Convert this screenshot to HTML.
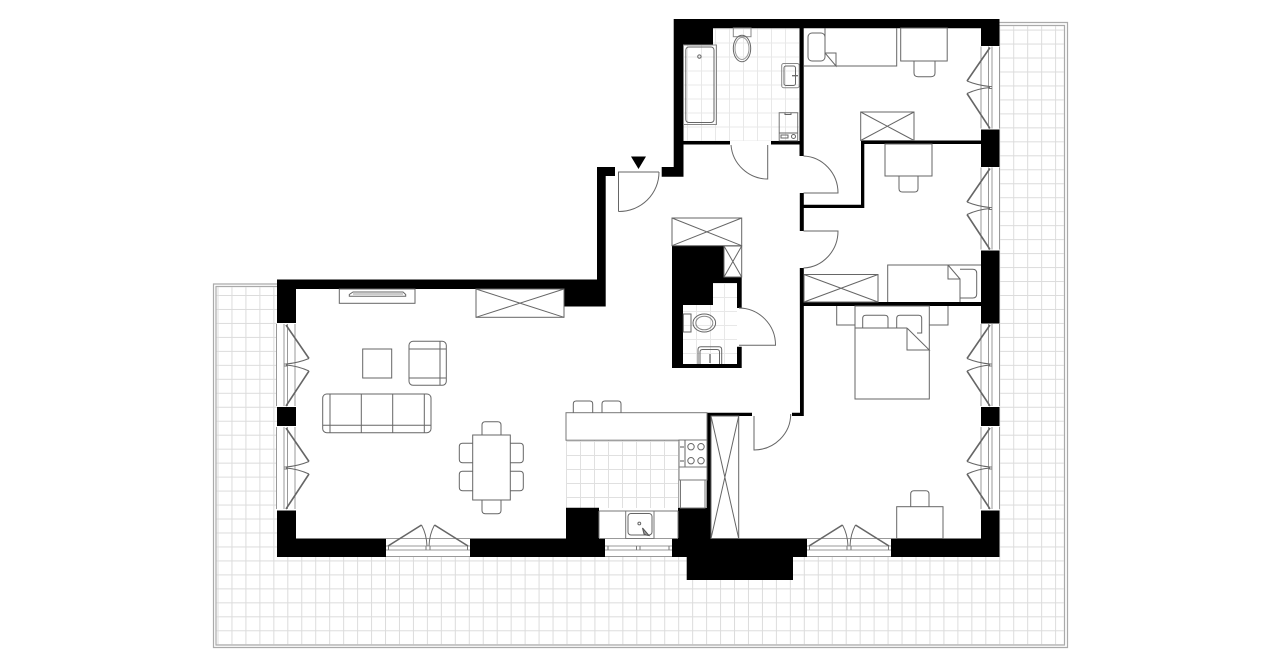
<!DOCTYPE html>
<html><head><meta charset="utf-8"><title>Floor plan</title>
<style>html,body{margin:0;padding:0;background:#fff}svg{display:block}</style></head>
<body>
<svg width="1280" height="667" viewBox="0 0 1280 667" xmlns="http://www.w3.org/2000/svg">
<defs>
<pattern id="tg" x="217.5" y="15.6" width="13.96" height="13.97" patternUnits="userSpaceOnUse"><path d="M0.5 0V13.97M0 0.5H13.96" fill="none" stroke="#dcdcdc" stroke-width="1"/></pattern>
<pattern id="k" x="566" y="441" width="14" height="14" patternUnits="userSpaceOnUse"><path d="M0.5 0V14M0 0.5H14" fill="none" stroke="#e0e0e0" stroke-width="1"/></pattern>
<pattern id="b" x="687" y="28.5" width="14" height="14" patternUnits="userSpaceOnUse"><path d="M0.5 0V14M0 0.5H14" fill="none" stroke="#e8e8e8" stroke-width="1"/></pattern>
<pattern id="c" x="696" y="283" width="14" height="14" patternUnits="userSpaceOnUse"><path d="M0.5 0V14M0 0.5H14" fill="none" stroke="#e8e8e8" stroke-width="1"/></pattern>
<g id="wr" fill="none">
<path d="M981 -41V41M988.5 -41V41M992 -41V41M999.5 -41V41" stroke="#999"/>
<path d="M988.5 -1H992M988.5 1H992" stroke="#777"/>
<path d="M990 -40L967 -6.5M967 6L990 41" stroke="#666" stroke-width="1.6"/>
<path d="M967 -6.5Q978 -2 990 -1M967 6Q978 1 990 0" stroke="#666"/>
</g>
<g id="wb" fill="none">
<path d="M-42 538.5H42M-42 546H42M-42 550H42M-42 556.5H42" stroke="#999"/>
<path d="M-39.5 546V550M39.5 546V550M-2 546V550M2 546V550" stroke="#777"/>
<path d="M-40 546L-6.5 525M40 546L6.5 525" stroke="#666" stroke-width="1.6"/>
<path d="M-6.5 525Q-1.5 534 -1 546M6.5 525Q1.5 534 1 546" stroke="#666"/>
</g>
</defs>

<!-- terrace -->
<path d="M999 22.5H1067.5V647.5H213.5V284H277" fill="none" stroke="#aaa" stroke-width="1.2"/>
<path d="M999 25.5H1064.5V645H216V286.5H277" fill="none" stroke="#aaa" stroke-width="1.2"/>
<path d="M999 26H1064V644.5H216.5V287H277V557H999Z" fill="url(#tg)"/>
<path d="M277 279.5H597V167H674V19H999V557H277Z" fill="#fff"/>

<!-- tiles -->
<rect x="566" y="440" width="113" height="68" fill="url(#k)"/>
<rect x="683" y="28" width="116" height="113" fill="url(#b)"/>
<path d="M683 305H713V283H737V364H683Z" fill="url(#c)"/>

<!-- walls -->
<g fill="#000">
<path d="M277 279.5H597V167H615V176H605.7V306.5H564V289H296V323H277Z"/>
<rect x="277" y="407" width="19" height="19"/>
<path d="M277 510.5H296V538.5H386V557H277Z"/>
<path d="M470 538.5H566V507.7H599V538.5H605V557H470Z"/>
<path d="M672 538.5H678V507.7H707V412.7H752V416H711V538.5H807V557H793V580H686.7V557H672Z"/>
<path d="M891 538.5H981V510.5H999.5V557H891Z"/>
<rect x="981" y="407" width="18.5" height="19"/>
<rect x="981" y="250.5" width="18.5" height="73"/>
<rect x="981" y="129.5" width="18.5" height="37.5"/>
<path d="M673.7 19H999.5V46H981V28.3H803.7V156H799.5V144.5H771V141H799.5V28.3H713V45H683.5V141H730V144.5H683.5V176.7H661.7V167H673.7Z"/>
<path d="M861 140.5H981V144H864.3V208H803.8V231H799.8V193H803.8V204.8H861Z"/>
<path d="M799.8 268H803.8V302H981V306H803.8V416H792V412.7H800Z"/>
<path d="M672 245.7H724V277.3H741.7V308H737V283H713V305H683V364H737V346.7H741.7V368H672Z"/>
</g>

<!-- windows -->
<use href="#wr" transform="translate(0,87.5)"/>
<use href="#wr" transform="translate(0,208.5)"/>
<use href="#wr" transform="translate(0,365)"/>
<use href="#wr" transform="translate(0,468)"/>
<use href="#wr" transform="translate(1276,365) scale(-1,1)"/>
<use href="#wr" transform="translate(1276,468) scale(-1,1)"/>
<use href="#wb" transform="translate(428,0)"/>
<use href="#wb" transform="translate(849,0)"/>
<g fill="none" stroke="#999"><path d="M605 538.5H672M605 546H672M605 550H672M605 556.5H672"/><path d="M608 546V550M669 546V550M636.5 546V550M640 546V550" stroke="#777"/></g>

<!-- doors and furniture -->
<g fill="none" stroke="#666" stroke-width="1">
<!-- entry -->
<path d="M618 172H659M618.5 172V211.5"/><path d="M618.5 211.5A40 40 0 0 0 659 172"/>
<path d="M731 145A37 37 0 0 0 767.7 179V145"/>
<path d="M803.5 156A36 37 0 0 1 838 193H803.5"/>
<path d="M803.5 231H838A36 37 0 0 1 803.5 268"/>
<path d="M739 308A37 37 0 0 1 775.5 345.2H739"/>
<path d="M754 416V450A37 36 0 0 0 790.7 414"/>

<!-- bath -->
<rect x="683.5" y="45" width="33" height="79.5" stroke="#888"/>
<rect x="685.8" y="47" width="28.2" height="75.5" rx="3"/>
<circle cx="699.4" cy="56.6" r="1.7"/>
<rect x="733.3" y="28" width="17.7" height="8.7" stroke="#888"/>
<ellipse cx="742" cy="48.5" rx="8.7" ry="13.3"/><ellipse cx="742" cy="48.5" rx="7" ry="11" stroke="#999"/>
<rect x="781.7" y="63.5" width="17.5" height="24.2" rx="2" stroke="#888"/>
<rect x="784" y="66" width="11.5" height="19.5" rx="2"/>
<path d="M792 75.7H798" stroke-width="1.3"/>
<rect x="779.2" y="112.7" width="18.5" height="28" stroke="#777"/>
<path d="M779.2 133H797.7"/><rect x="781" y="135" width="7" height="3"/><circle cx="793.5" cy="136.5" r="2"/>
<path d="M785 112.7V114.5H791V112.7"/>

<!-- bedroom 1 -->
<path d="M804 66H896.7V28M825 28V53L836 66V53H825"/>
<rect x="808" y="33" width="17" height="28" rx="4"/>
<rect x="900.7" y="28" width="46.5" height="33"/>
<path d="M914 61V73Q914 76.7 918 76.7H931Q935 76.7 935 73V61"/>
<rect x="860.7" y="112" width="53.3" height="28.5"/><path d="M860.7 112L914 140.5M914 112L860.7 140.5"/>

<!-- bedroom 2 -->
<rect x="885" y="144" width="47" height="32"/>
<path d="M899 176V188.5Q899 192 902.5 192H914.5Q918 192 918 188.5V176"/>
<path d="M887.7 302V265H981M948 265V279H960V302M948 265L960 279"/>
<path d="M960 269.3H972.7Q976.7 269.3 976.7 273.3V294Q976.7 298 972.7 298H960"/>
<rect x="804" y="274.5" width="74" height="27.5"/><path d="M804 274.5L878 302M878 274.5L804 302"/>

<!-- master -->
<rect x="855" y="306" width="74.3" height="93"/>
<path d="M855 328H907M907 328V350H929.3L907 328"/>
<path d="M862.7 328V318.5Q862.7 315.3 866 315.3H884.7Q888 315.3 888 318.5V328"/>
<path d="M896.7 328V318.5Q896.7 315.3 900 315.3H918.5Q921.7 315.3 921.7 318.5V333H917"/>
<path d="M855 325H836.7V306M929.3 325H948V306"/>
<rect x="896.7" y="506.7" width="46.3" height="31.8"/>
<path d="M910.7 506.7V494Q910.7 490.7 914 490.7H925.7Q929 490.7 929 494V506.7"/>

<!-- core closets -->
<rect x="672" y="218" width="69.7" height="27.7"/><path d="M672 218L741.7 245.7M741.7 218L672 245.7"/>
<rect x="724" y="246" width="17.7" height="31"/><path d="M724 246L741.7 277M741.7 246L724 277"/>
<rect x="683.3" y="314" width="7.7" height="18"/>
<ellipse cx="704.3" cy="323" rx="11.3" ry="9"/><ellipse cx="704.3" cy="323" rx="8.5" ry="6.8" stroke="#888"/>
<path d="M698 364V349.5Q698 346.7 701 346.7H719Q721.7 346.7 721.7 349.5V364"/>
<path d="M700 364V352Q700 349.5 702.5 349.5H717Q719.5 349.5 719.5 352V364"/>
<path d="M710 354V363" stroke-width="1.3"/>

<!-- corridor closet -->
<rect x="711" y="416" width="27.7" height="122.5"/><path d="M711 416L738.7 538.5M738.7 416L711 538.5"/>

<!-- living -->
<rect x="339.3" y="289" width="75.7" height="14.3"/>
<path d="M349.3 296.3V294.5L353 292H403L405.7 294.5V296.3Z"/>
<path d="M353 294H403" stroke="#999"/>
<rect x="476" y="289" width="88" height="28.3"/><path d="M476 289L564 317.3M564 289L476 317.3"/>
<rect x="362.7" y="349" width="29" height="29"/>
<rect x="409" y="341.3" width="37.3" height="44" rx="4"/>
<path d="M409 349H446.3M409 378H446.3M440 341.3V385.3"/>
<rect x="322.7" y="394" width="108.3" height="38.7" rx="4"/>
<path d="M330 394V432.7M361.3 394V432.7M392.7 394V432.7M424.3 394V432.7M322.7 425.3H431"/>

<!-- dining -->
<rect x="472.7" y="435" width="37.6" height="65"/>
<path d="M482 435V425Q482 421.7 485.3 421.7H497.7Q501 421.7 501 425V435"/>
<path d="M482 500V510.4Q482 513.7 485.3 513.7H497.7Q501 513.7 501 510.4V500"/>
<path d="M472.7 443.3H462.6Q459.3 443.3 459.3 446.6V459.4Q459.3 462.7 462.6 462.7H472.7"/>
<path d="M472.7 471.3H462.6Q459.3 471.3 459.3 474.6V487.4Q459.3 490.7 462.6 490.7H472.7"/>
<path d="M510.3 443.3H520Q523.3 443.3 523.3 446.6V459.4Q523.3 462.7 520 462.7H510.3"/>
<path d="M510.3 471.3H520Q523.3 471.3 523.3 474.6V487.4Q523.3 490.7 520 490.7H510.3"/>

<!-- kitchen -->
<rect x="566" y="412.7" width="141" height="27.5" fill="#fff" stroke="#777"/>
<path d="M573.3 412.7V404Q573.3 401 576.3 401H589.7Q592.7 401 592.7 404V412.7"/>
<path d="M602 412.7V404Q602 401 605 401H618Q621 401 621 404V412.7"/>
<rect x="679" y="440" width="28" height="27" fill="#fff" stroke="#777"/>
<path d="M685 440V467"/><path d="M681 446V448M681 460V462M683 446V448M683 460V462" stroke="#555"/>
<circle cx="691" cy="446.7" r="3.2"/><circle cx="701" cy="446.7" r="3.2"/><circle cx="691" cy="460.7" r="3.2"/><circle cx="701" cy="460.7" r="3.2"/>
<rect x="679" y="467" width="28" height="13" fill="#fff" stroke="#777"/>
<rect x="680.5" y="480" width="24.5" height="28" fill="#fff" stroke="#777"/>
<path d="M678.7 480V508M706.5 480V508" stroke="#999"/>
<path d="M599 511H678M599 511V538M678 511V538" stroke="#777"/>
<rect x="625.7" y="511" width="28.3" height="27.5" stroke="#777"/>
<rect x="628" y="513.5" width="24" height="21.5" rx="3"/>
<circle cx="639.3" cy="523.5" r="1.4"/>
<path d="M642.5 528L649 535.5L646 535L644 534Z" stroke="#555" fill="#999"/>
</g>
<polygon points="631,156.5 646,156.5 638.5,169" fill="#000"/>
</svg>
</body></html>
